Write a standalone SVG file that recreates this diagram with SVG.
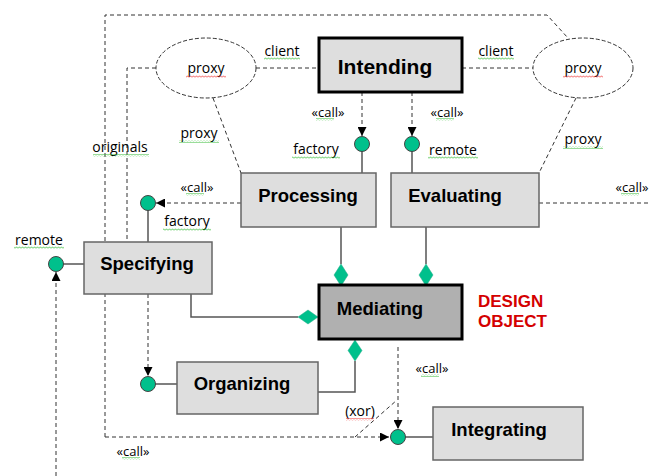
<svg xmlns="http://www.w3.org/2000/svg" width="649" height="476" viewBox="0 0 649 476">
<defs>
<style>
.box{fill:#dedede;stroke:#666;stroke-width:1.5}
.main{fill:#dedede;stroke:#000;stroke-width:3}
.med{fill:#b0b0b0;stroke:#000;stroke-width:3}
.bt{font-family:"Liberation Sans",Arial,sans-serif;font-weight:bold;font-size:18.5px;fill:#000;text-anchor:middle}
.lb{font-family:"Open Sans","DejaVu Sans",sans-serif;font-size:14px;fill:#000;text-anchor:middle}
.cl{font-family:"Open Sans","DejaVu Sans",sans-serif;font-size:13px;fill:#000;text-anchor:middle}
.red{font-family:"Liberation Sans",Arial,sans-serif;font-weight:bold;font-size:17px;fill:#d40000}
.dash{fill:none;stroke:#333;stroke-width:1;stroke-dasharray:4,3}
.sol{fill:none;stroke:#555;stroke-width:1.5}
.ell{fill:#fff;stroke:#333;stroke-width:1;stroke-dasharray:4,2}
.lol{fill:#00c08c;stroke:#444;stroke-width:1}
.dia{fill:#00c08c;stroke:#2a8;stroke-width:0.5}
.sg{fill:url(#sqg)}
.sr{fill:url(#sqr)}
</style>
<pattern id="sqg" width="3" height="3" patternUnits="userSpaceOnUse"><path d="M0 2.5 L1.5 0.8 L3 2.5" fill="none" stroke="#3b3" stroke-width="0.8"/></pattern>
<pattern id="sqr" width="3" height="3" patternUnits="userSpaceOnUse"><path d="M0 2.5 L1.5 0.8 L3 2.5" fill="none" stroke="#e33" stroke-width="0.8"/></pattern>
<marker id="ah" viewBox="0 0 10 10" refX="10" refY="5" markerWidth="9" markerHeight="9" markerUnits="userSpaceOnUse" orient="auto"><path d="M0 0 L10 5 L0 10 Z" fill="#000"/></marker>
</defs>
<rect width="649" height="476" fill="#fff"/>

<g id="connectors">
<!-- top outer dashed -->
<polyline class="dash" points="105,437 105,15 547,15 568,38"/>
<polyline class="dash" points="105,437 389,437" marker-end="url(#ah)"/>
<!-- originals -->
<polyline class="dash" points="156,68 127,68 127,242"/>
<!-- client lines -->
<line class="dash" x1="256" y1="68" x2="319" y2="68"/>
<line class="dash" x1="462" y1="68" x2="533" y2="68"/>
<!-- proxy lines -->
<line class="dash" x1="213" y1="98" x2="241" y2="173"/>
<line class="dash" x1="576" y1="98" x2="539" y2="173"/>
<!-- call from Intending -->
<line class="dash" x1="362" y1="92" x2="362" y2="136" marker-end="url(#ah)"/>
<line class="dash" x1="412" y1="92" x2="412" y2="136" marker-end="url(#ah)"/>
<line class="sol" x1="362" y1="151" x2="362" y2="173"/>
<line class="sol" x1="412" y1="151" x2="412" y2="173"/>
<!-- call from Processing -->
<line class="dash" x1="241" y1="203" x2="156" y2="203" marker-end="url(#ah)"/>
<line class="sol" x1="148" y1="210" x2="148" y2="242"/>
<!-- call from Evaluating -->
<line class="dash" x1="539" y1="203" x2="649" y2="203"/>
<!-- remote on Specifying -->
<line class="sol" x1="63" y1="264" x2="84" y2="264"/>
<line class="dash" x1="56" y1="476" x2="56" y2="272" marker-end="url(#ah)"/>
<!-- Specifying to Organizing -->
<line class="dash" x1="148" y1="294" x2="148" y2="376" marker-end="url(#ah)"/>
<line class="sol" x1="155" y1="384" x2="177" y2="384"/>
<!-- aggregations -->
<line class="sol" x1="341" y1="227" x2="341" y2="264"/>
<line class="sol" x1="426" y1="227" x2="426" y2="264"/>
<polyline class="sol" points="191,294 191,317 298,317"/>
<polyline class="sol" points="318,392 355,392 355,361"/>
<!-- Mediating to Integrating -->
<line class="dash" x1="398" y1="347" x2="398" y2="429" marker-end="url(#ah)"/>
<line class="dash" x1="355" y1="437" x2="397" y2="400"/>
<line class="sol" x1="405" y1="437" x2="433" y2="437"/>
<!-- lollipops -->
<circle class="lol" cx="362" cy="144" r="7.5"/>
<circle class="lol" cx="412" cy="144" r="7.5"/>
<circle class="lol" cx="148" cy="203" r="7.5"/>
<circle class="lol" cx="56" cy="264" r="7.5"/>
<circle class="lol" cx="148" cy="384" r="7.5"/>
<circle class="lol" cx="398" cy="437" r="7.5"/>
<!-- diamonds -->
<polygon class="dia" points="341,264 348,275 341,286 334,275"/>
<polygon class="dia" points="426,264 433,275 426,286 419,275"/>
<polygon class="dia" points="298,317 308,310 318,317 308,324"/>
<polygon class="dia" points="355,340 362,350.5 355,361 348,350.5"/>
</g>

<g id="labels">
<text class="lb" x="282" y="56">client</text><rect class="sg" x="264" y="57" width="36" height="3"/>
<text class="lb" x="496" y="56">client</text><rect class="sg" x="478" y="57" width="36" height="3"/>
<text class="cl" x="328" y="117">«call»</text><rect class="sg" x="316" y="118" width="18" height="3"/>
<text class="cl" x="447" y="117">«call»</text><rect class="sg" x="436" y="118" width="18" height="3"/>
<text class="lb" x="316" y="154">factory</text><rect class="sg" x="292" y="156" width="48" height="3"/>
<text class="lb" x="453" y="155">remote</text><rect class="sg" x="428" y="156" width="50" height="3"/>
<text class="lb" x="199" y="138">proxy</text><rect class="sg" x="179" y="140" width="40" height="3"/>
<text class="lb" x="583" y="144">proxy</text><rect class="sg" x="563" y="146" width="40" height="3"/>
<text class="lb" x="120" y="152">originals</text><rect class="sg" x="93" y="154" width="56" height="3"/>
<text class="cl" x="197" y="192">«call»</text><rect class="sg" x="186" y="193" width="18" height="3"/>
<text class="lb" x="187" y="226">factory</text><rect class="sg" x="163" y="228" width="48" height="3"/>
<text class="cl" x="632" y="192">«call»</text><rect class="sg" x="621" y="193" width="18" height="3"/>
<text class="lb" x="39" y="245">remote</text><rect class="sg" x="14" y="246" width="50" height="3"/>
<text class="cl" x="133" y="456">«call»</text><rect class="sg" x="122" y="457" width="18" height="3"/>
<text class="cl" x="432" y="373">«call»</text><rect class="sg" x="421" y="374" width="18" height="3"/>
<text class="lb" x="360" y="416">(xor)</text><rect class="sr" x="346" y="418" width="28" height="3"/>
<text class="red" x="478" y="307">DESIGN</text>
<text class="red" x="478" y="327">OBJECT</text>
</g>

<g id="proxy-left"><ellipse class="ell" cx="206" cy="68" rx="50" ry="30"/><text class="lb" x="206" y="73">proxy</text><rect class="sr" x="186" y="75" width="40" height="3"/></g>
<g id="proxy-right"><ellipse class="ell" cx="583" cy="68" rx="50" ry="30"/><text class="lb" x="583" y="73">proxy</text><rect class="sr" x="563" y="75" width="40" height="3"/></g>

<g id="intending"><rect class="main" x="319" y="38" width="143" height="54"/><text class="bt" x="385" y="74" style="font-size:21px">Intending</text></g>
<g id="processing"><rect class="box" x="241" y="173" width="135" height="54"/><text class="bt" x="308" y="202">Processing</text></g>
<g id="evaluating"><rect class="box" x="391" y="173" width="148" height="54"/><text class="bt" x="455" y="202">Evaluating</text></g>
<g id="specifying"><rect class="box" x="84" y="242" width="128" height="52"/><text class="bt" x="147" y="270">Specifying</text></g>
<g id="mediating"><rect class="med" x="319" y="285" width="143" height="54"/><text class="bt" x="380" y="315">Mediating</text></g>
<g id="organizing"><rect class="box" x="177" y="362" width="141" height="52"/><text class="bt" x="242" y="390">Organizing</text></g>
<g id="integrating"><rect class="box" x="433" y="407" width="150" height="53"/><text class="bt" x="499" y="436">Integrating</text></g>
</svg>
